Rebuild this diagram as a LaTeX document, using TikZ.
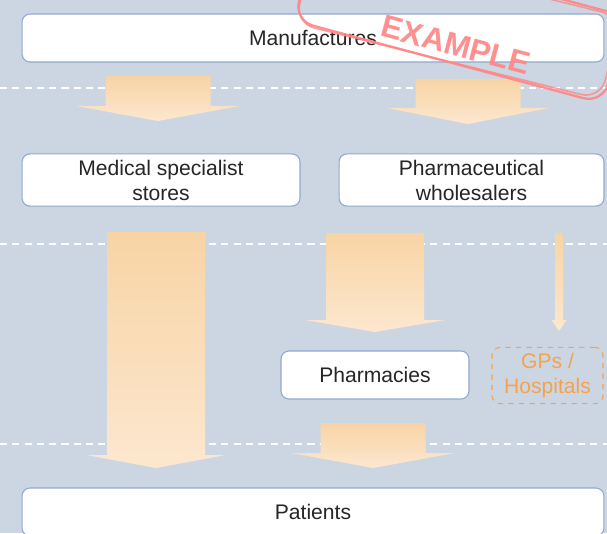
\documentclass[tikz,border=0pt]{standalone}
\usepackage{fontspec}
\setmainfont{Liberation Sans}
\usepackage{xcolor}
\usetikzlibrary{positioning, calc}
\definecolor{chainbg}{HTML}{CCD6E2}
\definecolor{chainedge}{HTML}{8FA8CF}
\definecolor{flowtop}{HTML}{F8D4A4}
\definecolor{flowbot}{HTML}{FCE7CF}
\definecolor{gporange}{HTML}{F5A24C}
\definecolor{stampred}{HTML}{FF8585}

% block arrow: centre x, shaft top, head base, tip, half shaft, half head
\newcommand{\flowarrow}[6]{%
  \shade[flow] (#1-#5,#2) -- (#1+#5,#2) -- (#1+#5,#3) -- (#1+#6,#3)
    -- (#1,#4) -- (#1-#6,#3) -- (#1-#5,#3) -- cycle;}

\begin{document}
\begin{tikzpicture}[
    x=0.02cm, y=-0.02cm,
    stage/.style={rectangle, rounded corners=0.16cm, draw=chainedge, line width=0.6pt, fill=white,
      minimum height=0.96cm, align=center, font=\fontsize{12}{14.2}\selectfont, text=black!85},
    optional/.style={stage, draw=gporange, dashed, fill=none, text=gporange},
    flow/.style={top color=flowtop, bottom color=flowbot},
    divider/.style={white, line width=0.6pt, dash pattern=on 4pt off 3pt}
]
\useasboundingbox (0,0) rectangle (607,533);
\clip (0,0) rectangle (607,533);
\fill[chainbg] (0,0) rectangle (607,533);

% level separators
\foreach \ylev in {88,244,444}
  \draw[divider] (0,\ylev) -- (607,\ylev);

% flows
\flowarrow{158}{76}{106}{121}{52.5}{81.5}
\flowarrow{468}{79}{108}{124}{52.5}{81}
\flowarrow{156}{232}{455}{468}{49}{70}
\flowarrow{375}{233}{320}{332}{49}{70}
\flowarrow{559}{233}{320}{331}{4}{7.5}
\flowarrow{373}{423}{453}{468}{52.5}{82}

% stages
\node[stage, minimum width=11.64cm] (manu) at (313,38) {Manufactures};
\node[stage, minimum width=5.56cm] (spec) at (161,180) {Medical specialist\\stores};
\node[stage, minimum width=5.3cm] (whole) at (471.5,180) {Pharmaceutical\\wholesalers};
\node[stage, minimum width=3.76cm] (pharm) at (375,375) {Pharmacies};
\node[optional, minimum width=2.22cm, minimum height=0.94cm] (gps) at (547.5,375.5) {GPs /\\Hospitals};
\node[stage, minimum width=11.64cm] (pat) at (313,512) {Patients};

% stamp
\node[rotate=-15, draw=stampred, line width=1.3pt, rounded corners=0.4cm,
  minimum width=6.4cm, minimum height=1.8cm, opacity=0.9] (stamp) at (460,18.5) {};
\node[rotate=-14, draw=stampred, line width=0.9pt, rounded corners=0.4cm,
  minimum width=6.3cm, minimum height=1.7cm, opacity=0.8] (stamp2) at (458,20) {};
\node[rotate=-15, text=stampred, font=\fontsize{18}{20}\selectfont\bfseries, opacity=0.9] (stamptext) at (456,45) {EXAMPLE};
\end{tikzpicture}
\end{document}
